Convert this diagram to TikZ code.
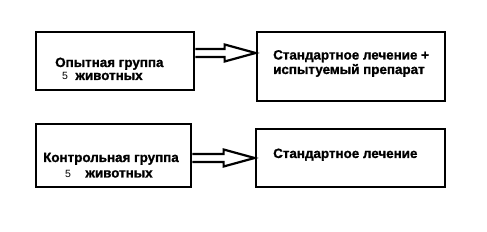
\documentclass[tikz,border=0pt]{standalone}
\usepackage{fontspec}
\setmainfont{Liberation Sans}[BoldFeatures={FakeBold=1.2}]
\usetikzlibrary{calc,positioning}

\begin{document}
\begin{tikzpicture}[x=1pt,y=1pt,
  box/.style={draw,line width=2.8pt,minimum width=#1,inner sep=0pt},
  txt/.style={font=\bfseries\fontsize{13.4}{14.5}\selectfont,align=left,inner sep=0pt},
  num/.style={font=\fontsize{10.5}{12}\selectfont,inner sep=0pt},
  harrow/.style={line width=2.2pt,line join=miter,to path={
    let \p1=(\tikztostart), \p2=(\tikztotarget) in
    (\x1,\y1+4pt) -- (\x2-31pt,\y1+4pt) -- (\x2-31pt,\y1+8.5pt) -- (\x2,\y1)
    -- (\x2-31pt,\y1-8.5pt) -- (\x2-31pt,\y1-4pt) -- (\x1,\y1-4pt)}}]
  \useasboundingbox (0,0) rectangle (487,232);
  % groups
  \node[box=158pt,minimum height=58pt] (exp) at (115,171) {};
  \node[box=155pt,minimum height=63pt] (ctl) at (113.5,76.5) {};
  % treatments
  \node[box=188pt,minimum height=69pt] (trt) at (351,165.5) {};
  \node[box=189pt,minimum height=58pt] (std) at (350.5,74) {};
  % texts
  \node[txt,anchor=base west] (exp-t) at (55,165) {Опытная группа};
  \node[num,anchor=base west] (exp-n) at (62,152) {5};
  \node[txt,right=7pt of exp-n.base east,anchor=base west] (exp-a) {животных};
  \node[txt,anchor=base west] (ctl-t) at (43,70) {Контрольная группа};
  \node[num,anchor=base west] (ctl-n) at (65,54.5) {5};
  \node[txt,right=14pt of ctl-n.base east,anchor=base west] (ctl-a) {животных};
  \node[txt,anchor=base west] (trt-t) at (273,158) {Стандартное лечение +\\испытуемый препарат};
  \node[txt,anchor=base west] (std-t) at (273,74) {Стандартное лечение};
  % arrows
  \draw[harrow] ([yshift=8pt]exp.east) to ([yshift=8pt]exp.east -| trt.west);
  \draw[harrow] ([yshift=-2.5pt]ctl.east) to ([yshift=-2.5pt]ctl.east -| std.west);
\end{tikzpicture}
\end{document}
